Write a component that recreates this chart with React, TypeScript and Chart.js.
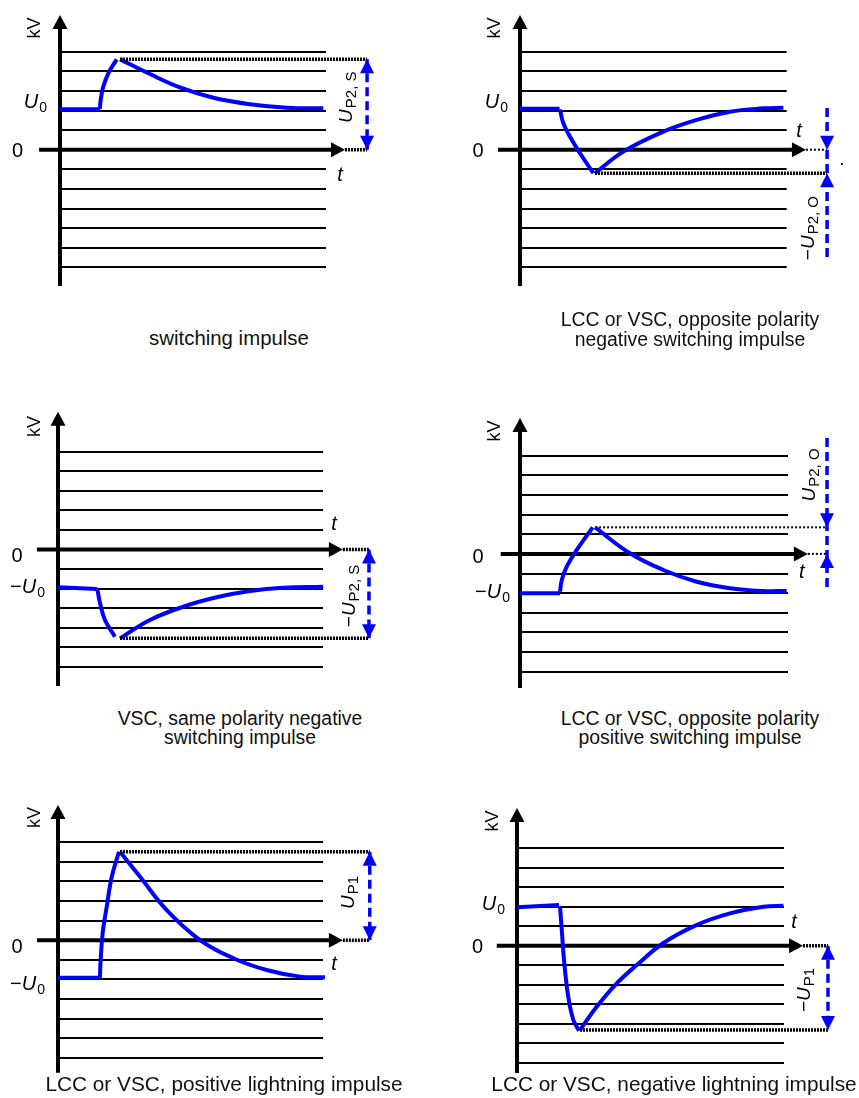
import React, { useEffect, useRef } from 'react';
import { Chart, registerables } from 'chart.js';

Chart.register(...registerables);

type Pt = [number, number];

// x: time in arbitrary units (0 … 13.6 = end of the grid), y: voltage in grid steps
// Panel 1 — switching impulse
const p1Base: Pt[] = [[0, 2.07], [2.04, 2.07]];
const p1Rise: Pt[] = [[2.04, 2.08], [2.08, 2.54], [2.21, 3.21], [2.47, 3.9], [2.9, 4.61]];
const p1Decay: Pt[] = [[3.07, 4.61], [4.6, 3.86], [6.13, 3.18], [7.84, 2.65], [9.71, 2.32], [11.6, 2.14], [13.46, 2.11]];

// Panel 2 — opposite polarity negative switching impulse
const p2Base: Pt[] = [[0, 2.09], [2.02, 2.09]];
const p2Fall: Pt[] = [[2.04, 2.05], [2.21, 1.35], [2.55, 0.66], [3.06, -0.18], [3.74, -1.2]];
const p2Recover: Pt[] = [[3.82, -1.2], [5.27, -0.1], [7.31, 0.92], [9.01, 1.52], [10.71, 1.94], [12.41, 2.11], [13.43, 2.14]];

// Panel 3 — VSC, same polarity negative switching impulse
const p3Base: Pt[] = [[0, -1.93], [2.02, -2.03]];
const p3Fall: Pt[] = [[2.02, -2.03], [2.16, -2.76], [2.41, -3.61], [2.92, -4.47]];
const p3Recover: Pt[] = [[3.18, -4.55], [4.72, -3.61], [6.43, -2.93], [8.14, -2.45], [9.85, -2.13], [11.56, -1.96], [13.61, -1.91]];

// Panel 4 — opposite polarity positive switching impulse
const p4Base: Pt[] = [[0, -2.0], [2.03, -2.0]];
const p4Rise: Pt[] = [[2.03, -1.92], [2.12, -1.33], [2.37, -0.65], [2.88, 0.2], [3.69, 1.35]];
const p4Decay: Pt[] = [[3.81, 1.35], [5.58, 0.03], [7.27, -0.82], [8.97, -1.42], [10.65, -1.75], [12.34, -1.89], [13.53, -1.89]];

// Panel 5 — positive lightning impulse
const p5Base: Pt[] = [[0, -1.92], [2.14, -1.92]];
const p5Rise: Pt[] = [[2.15, -1.92], [2.19, -1.01], [2.29, 0.35], [2.5, 1.71], [2.76, 3.24], [3.13, 4.52]];
const p5Decay: Pt[] = [[3.18, 4.52], [4.21, 3.24], [5.58, 1.54], [7.29, 0.01], [9.0, -0.92], [10.71, -1.52], [12.42, -1.86], [13.7, -1.89]];

// Panel 6 — negative lightning impulse
const p6Base: Pt[] = [[0, 1.97], [2.14, 2.09]];
const p6Fall: Pt[] = [[2.19, 2.04], [2.28, 0.81], [2.41, -0.9], [2.61, -2.61], [2.87, -3.81], [3.16, -4.36]];
const p6Recover: Pt[] = [[3.21, -4.32], [4.06, -3.13], [5.08, -1.93], [6.1, -0.99], [7.44, 0.13], [9.14, 1.06], [10.85, 1.66], [12.55, 2.0], [13.57, 2.05]];

// grid levels (voltage steps) and time range of the grid
const yGridMin = -6;
const yGridMax = 5;
const xGridMax = 13.6;

const captions = [
  { lines: ['switching impulse'], cx: 229, base: 345, size: 20.4 },
  { lines: ['LCC or VSC, opposite polarity', 'negative switching impulse'], cx: 690, base: 326.7, size: 19.4 },
  { lines: ['VSC, same polarity negative', 'switching impulse'], cx: 240, base: 725, size: 19.4 },
  { lines: ['LCC or VSC, opposite polarity', 'positive switching impulse'], cx: 690, base: 725, size: 19.4 },
  { lines: ['LCC or VSC, positive lightning impulse'], cx: 224, base: 1091.7, size: 20.8 },
  { lines: ['LCC or VSC, negative lightning impulse'], cx: 674, base: 1091.7, size: 20.8 },
];

const FONT = '"Liberation Sans", Arial, Helvetica, sans-serif';
const BLUE = '#0000ff';
const INK = '#000000';

type Part = { t: string; i?: boolean; sub?: boolean };
type Label =
  | { k: 'kv' | 'zero' | 't' | 'dot'; x: number; y: number }
  | { k: 'u0' | 'rot'; x: number; y: number; parts: Part[] };

type Head = { y: number; dir: 'up' | 'down' };
type Spec = {
  box: { left: number; top: number; w: number; h: number };
  area: { left: number; right: number; top: number; bottom: number };
  segments: { pts: Pt[]; smooth?: boolean }[];
  yAxis: { from: number; tip: number };
  xAxis: { from: number; tip: number; dotTo: number; thick: boolean };
  ext: Pt;
  extThick: boolean;
  arrow: { x: number; y1: number; y2: number; heads: Head[] };
  labels: Label[];
};

const U0: Part[] = [{ t: 'U', i: true }, { t: '0', sub: true }];
const NU0: Part[] = [{ t: '\u2212' }, { t: 'U', i: true }, { t: '0', sub: true }];

const panels: Spec[] = [
  {
    box: { left: 0, top: 0, w: 430, h: 310 },
    area: { left: 60, right: 326, top: 51.7, bottom: 267.3 },
    segments: [{ pts: p1Base }, { pts: p1Rise, smooth: true }, { pts: p1Decay, smooth: true }],
    yAxis: { from: -6.95, tip: 6.87 },
    xAxis: { from: -1.07, tip: 14.57, dotTo: 15.7, thick: true },
    ext: p1Decay[0],
    extThick: true,
    arrow: { x: 15.7, y1: p1Decay[0][1], y2: 0, heads: [{ y: p1Decay[0][1], dir: 'up' }, { y: 0, dir: 'down' }] },
    labels: [
      { k: 'kv', x: -1.33, y: 6.21 },
      { k: 'zero', x: -2.17, y: 0 },
      { k: 't', x: 14.34, y: -1.24 },
      { k: 'u0', x: -0.66, y: 2.11, parts: U0 },
      { k: 'rot', x: 14.57, y: 2.68, parts: [{ t: 'U', i: true }, { t: 'P2, S', sub: true }] },
    ],
  },
  {
    box: { left: 430, top: 0, w: 429, h: 310 },
    area: { left: 520, right: 786.7, top: 51.7, bottom: 267.3 },
    segments: [{ pts: p2Base }, { pts: p2Fall, smooth: true }, { pts: p2Recover, smooth: true }],
    yAxis: { from: -6.95, tip: 6.87 },
    xAxis: { from: -1.12, tip: 14.58, dotTo: 15.66, thick: false },
    ext: p2Recover[0],
    extThick: true,
    arrow: { x: 15.66, y1: 2.13, y2: -5.53, heads: [{ y: 0, dir: 'down' }, { y: p2Recover[0][1], dir: 'up' }] },
    labels: [
      { k: 'kv', x: -1.33, y: 6.21 },
      { k: 'zero', x: -2.14, y: 0 },
      { k: 't', x: 14.25, y: 1.0 },
      { k: 'u0', x: -0.61, y: 2.13, parts: U0 },
      { k: 'rot', x: 14.64, y: -4.0, parts: [{ t: '\u2212' }, { t: 'U', i: true }, { t: 'P2, O', sub: true }] },
      { k: 'dot', x: 16.42, y: -0.76 },
    ],
  },
  {
    box: { left: 0, top: 390, w: 430, h: 310 },
    area: { left: 58, right: 323, top: 451.7, bottom: 666.7 },
    segments: [{ pts: p3Base }, { pts: p3Fall, smooth: true }, { pts: p3Recover, smooth: true }],
    yAxis: { from: -6.99, tip: 7.04 },
    xAxis: { from: -1.08, tip: 14.62, dotTo: 15.96, thick: true },
    ext: p3Recover[0],
    extThick: true,
    arrow: { x: 15.96, y1: 0, y2: p3Recover[0][1], heads: [{ y: 0, dir: 'up' }, { y: p3Recover[0][1], dir: 'down' }] },
    labels: [
      { k: 'kv', x: -1.26, y: 6.29 },
      { k: 'zero', x: -2.1, y: -0.28 },
      { k: 't', x: 14.19, y: 1.38 },
      { k: 'u0', x: -0.67, y: -2.25, parts: NU0 },
      { k: 'rot', x: 14.88, y: -2.38, parts: [{ t: '\u2212' }, { t: 'U', i: true }, { t: 'P2, S', sub: true }] },
    ],
  },
  {
    box: { left: 430, top: 390, w: 429, h: 310 },
    area: { left: 520, right: 788, top: 455.7, bottom: 671.7 },
    segments: [{ pts: p4Base }, { pts: p4Rise, smooth: true }, { pts: p4Decay, smooth: true }],
    yAxis: { from: -6.83, tip: 6.92 },
    xAxis: { from: -0.98, tip: 14.61, dotTo: 15.58, thick: false },
    ext: p4Decay[0],
    extThick: false,
    arrow: { x: 15.58, y1: 5.9, y2: -1.84, heads: [{ y: p4Decay[0][1], dir: 'down' }, { y: 0, dir: 'up' }] },
    labels: [
      { k: 'kv', x: -1.34, y: 6.26 },
      { k: 'zero', x: -2.13, y: -0.08 },
      { k: 't', x: 14.33, y: -0.87 },
      { k: 'u0', x: -0.51, y: -2.24, parts: NU0 },
      { k: 'rot', x: 14.61, y: 4.02, parts: [{ t: 'U', i: true }, { t: 'P2, O', sub: true }] },
    ],
  },
  {
    box: { left: 0, top: 780, w: 430, h: 300 },
    area: { left: 58, right: 323, top: 842.3, bottom: 1057.7 },
    segments: [{ pts: p5Base }, { pts: p5Rise, smooth: true }, { pts: p5Decay, smooth: true }],
    yAxis: { from: -6.77, tip: 6.9 },
    xAxis: { from: -1.08, tip: 14.62, dotTo: 16.0, thick: true },
    ext: p5Decay[0],
    extThick: true,
    arrow: { x: 16.0, y1: p5Decay[0][1], y2: 0, heads: [{ y: p5Decay[0][1], dir: 'up' }, { y: 0, dir: 'down' }] },
    labels: [
      { k: 'kv', x: -1.26, y: 6.27 },
      { k: 'zero', x: -2.1, y: -0.3 },
      { k: 't', x: 14.19, y: -1.14 },
      { k: 'u0', x: -0.67, y: -2.54, parts: NU0 },
      { k: 'rot', x: 14.83, y: 2.44, parts: [{ t: 'U', i: true }, { t: 'P1', sub: true }] },
    ],
  },
  {
    box: { left: 430, top: 780, w: 429, h: 300 },
    area: { left: 517, right: 784, top: 848.3, bottom: 1062.7 },
    segments: [{ pts: p6Base }, { pts: p6Fall, smooth: true }, { pts: p6Recover, smooth: true }],
    yAxis: { from: -6.53, tip: 7.07 },
    xAxis: { from: -1.03, tip: 14.57, dotTo: 15.84, thick: true },
    ext: p6Recover[0],
    extThick: true,
    arrow: { x: 15.84, y1: 0, y2: p6Recover[0][1], heads: [{ y: 0, dir: 'up' }, { y: p6Recover[0][1], dir: 'down' }] },
    labels: [
      { k: 'kv', x: -1.3, y: 6.4 },
      { k: 'zero', x: -2.01, y: -0.01 },
      { k: 't', x: 14.14, y: 1.27 },
      { k: 'u0', x: -0.61, y: 1.84, parts: U0 },
      { k: 'rot', x: 14.57, y: -2.27, parts: [{ t: '\u2212' }, { t: 'U', i: true }, { t: 'P1', sub: true }] },
    ],
  },
];

function fontFor(p: Part, size: number, subSize: number) {
  return `${p.i ? 'italic ' : ''}${p.sub ? subSize : size}px ${FONT}`;
}

function drawParts(
  ctx: CanvasRenderingContext2D,
  parts: Part[],
  x: number,
  y: number,
  o: { size: number; subSize?: number; subDy?: number; align: 'left' | 'center' | 'right'; rotate?: boolean; middle?: boolean },
) {
  const subSize = o.subSize ?? o.size;
  const subDy = o.subDy ?? 0;
  ctx.save();
  ctx.fillStyle = INK;
  ctx.textBaseline = 'alphabetic';
  ctx.textAlign = 'left';
  const widths = parts.map((p) => {
    ctx.font = fontFor(p, o.size, subSize);
    return ctx.measureText(p.t).width + (p.i ? 1 : 0);
  });
  const W = widths.reduce((a, b) => a + b, 0);
  ctx.translate(x, y);
  if (o.rotate) ctx.rotate(-Math.PI / 2);
  let cx = o.align === 'right' ? -W : o.align === 'center' ? -W / 2 : 0;
  const base = o.middle ? o.size * 0.36 : 0;
  parts.forEach((p, k) => {
    ctx.font = fontFor(p, o.size, subSize);
    ctx.fillText(p.t, cx, base + (p.sub ? subDy : 0));
    cx += widths[k];
  });
  ctx.restore();
}

function tri(ctx: CanvasRenderingContext2D, pts: number[][], color: string) {
  ctx.beginPath();
  ctx.moveTo(pts[0][0], pts[0][1]);
  ctx.lineTo(pts[1][0], pts[1][1]);
  ctx.lineTo(pts[2][0], pts[2][1]);
  ctx.closePath();
  ctx.fillStyle = color;
  ctx.fill();
}

function makeDecor(spec: Spec) {
  return {
    id: 'impulseDecor',
    beforeDatasetsDraw(chart: any) {
      const ctx: CanvasRenderingContext2D = chart.ctx;
      const X = (v: number) => chart.scales.x.getPixelForValue(v);
      const Y = (v: number) => chart.scales.y.getPixelForValue(v);
      ctx.save();
      ctx.strokeStyle = INK;
      ctx.lineWidth = 4;
      ctx.lineCap = 'butt';
      // vertical axis
      const x0 = X(0);
      const yt = Y(spec.yAxis.tip);
      ctx.beginPath();
      ctx.moveTo(x0, Y(spec.yAxis.from));
      ctx.lineTo(x0, yt + 12);
      ctx.stroke();
      tri(ctx, [[x0, yt], [x0 - 7.5, yt + 14], [x0 + 7.5, yt + 14]], INK);
      // horizontal axis
      const y0 = Y(0);
      const xt = X(spec.xAxis.tip);
      ctx.beginPath();
      ctx.moveTo(X(spec.xAxis.from), y0);
      ctx.lineTo(xt - 12, y0);
      ctx.stroke();
      tri(ctx, [[xt, y0], [xt - 14, y0 - 7.5], [xt - 14, y0 + 7.5]], INK);
      ctx.restore();
    },
    afterDatasetsDraw(chart: any) {
      const ctx: CanvasRenderingContext2D = chart.ctx;
      const X = (v: number) => chart.scales.x.getPixelForValue(v);
      const Y = (v: number) => chart.scales.y.getPixelForValue(v);
      const dotted = (x1: number, x2: number, y: number, thick: boolean) => {
        ctx.save();
        ctx.strokeStyle = INK;
        ctx.lineWidth = thick ? 3.5 : 2;
        ctx.setLineDash(thick ? [2, 1] : [2, 2]);
        ctx.beginPath();
        ctx.moveTo(x1, y);
        ctx.lineTo(x2, y);
        ctx.stroke();
        ctx.restore();
      };
      // axis continuation
      dotted(X(spec.xAxis.tip), X(spec.xAxis.dotTo), Y(0), spec.xAxis.thick);
      // extremum reference line
      dotted(X(spec.ext[0]), X(spec.arrow.x), Y(spec.ext[1]), spec.extThick);
      // dashed measuring arrow
      const ax = X(spec.arrow.x);
      ctx.save();
      ctx.strokeStyle = BLUE;
      ctx.lineWidth = 3.5;
      ctx.setLineDash([9, 5]);
      ctx.beginPath();
      ctx.moveTo(ax, Y(spec.arrow.y1));
      ctx.lineTo(ax, Y(spec.arrow.y2));
      ctx.stroke();
      ctx.restore();
      spec.arrow.heads.forEach((h) => {
        const ty = Y(h.y);
        const s = h.dir === 'up' ? 1 : -1;
        tri(ctx, [[ax, ty], [ax - 7, ty + s * 14], [ax + 7, ty + s * 14]], BLUE);
      });
      // labels
      spec.labels.forEach((l) => {
        const px = X(l.x);
        const py = Y(l.y);
        if (l.k === 'kv') drawParts(ctx, [{ t: 'kV' }], px, py, { size: 18, align: 'center', rotate: true, middle: true });
        else if (l.k === 'zero') drawParts(ctx, [{ t: '0' }], px, py, { size: 20, align: 'center', middle: true });
        else if (l.k === 't') drawParts(ctx, [{ t: 't', i: true }], px, py, { size: 20, align: 'center', middle: true });
        else if (l.k === 'dot') drawParts(ctx, [{ t: '.' }], px, py, { size: 19, align: 'center' });
        else if (l.k === 'u0') drawParts(ctx, l.parts, px, py, { size: 20, subSize: 14, subDy: 4, align: 'right' });
        else if (l.k === 'rot') drawParts(ctx, l.parts, px, py, { size: 19, subSize: 15, subDy: 4.5, align: 'center', rotate: true, middle: true });
      });
    },
  };
}

function Panel({ spec }: { spec: Spec }) {
  const ref = useRef<HTMLCanvasElement>(null);
  useEffect(() => {
    const c = ref.current;
    if (!c) return;
    const { box, area } = spec;
    const chart = new Chart(c, {
      type: 'scatter',
      data: {
        datasets: spec.segments.map((seg) => ({
          data: seg.pts.map(([x, y]) => ({ x, y })),
          showLine: true,
          borderColor: BLUE,
          backgroundColor: BLUE,
          borderWidth: 4,
          pointRadius: 0,
          pointHoverRadius: 0,
          tension: seg.smooth ? 0.4 : 0,
          cubicInterpolationMode: 'default',
          borderCapStyle: 'butt',
          borderJoinStyle: 'round',
          fill: false,
          clip: false,
        })) as any,
      },
      options: {
        animation: false,
        responsive: false,
        maintainAspectRatio: false,
        devicePixelRatio: 1,
        events: [],
        elements: { line: { capBezierPoints: false } },
        layout: {
          padding: {
            left: area.left - box.left,
            right: box.left + box.w - area.right,
            top: area.top - box.top,
            bottom: box.top + box.h - area.bottom,
          },
        },
        scales: {
          x: { type: 'linear', min: 0, max: xGridMax, display: false },
          y: {
            type: 'linear',
            min: yGridMin,
            max: yGridMax,
            display: true,
            ticks: { display: false, stepSize: 1 },
            grid: { color: INK, lineWidth: 2, drawTicks: false },
            border: { display: false },
          },
        },
        plugins: { legend: { display: false }, tooltip: { enabled: false } },
      } as any,
      plugins: [makeDecor(spec) as any],
    });
    return () => chart.destroy();
  }, [spec]);
  return (
    <canvas
      ref={ref}
      width={spec.box.w}
      height={spec.box.h}
      style={{ position: 'absolute', left: spec.box.left, top: spec.box.top, width: spec.box.w, height: spec.box.h }}
    />
  );
}

export default function App() {
  return (
    <div style={{ position: 'absolute', left: 0, top: 0, width: 859, height: 1098, background: '#ffffff', overflow: 'hidden' }}>
      {panels.map((p, i) => (
        <Panel key={i} spec={p} />
      ))}
      {captions.map((c, i) => {
        const lh = c.size;
        const top = c.base - ((lh - 1.117 * c.size) / 2 + 0.905 * c.size);
        return (
          <div
            key={'c' + i}
            style={{
              position: 'absolute',
              left: c.cx - 250,
              top,
              width: 500,
              textAlign: 'center',
              fontFamily: FONT,
              fontSize: c.size,
              lineHeight: lh + 'px',
              color: '#111111',
              whiteSpace: 'nowrap',
            }}
          >
            {c.lines.map((ln, k) => (
              <div key={k}>{ln}</div>
            ))}
          </div>
        );
      })}
    </div>
  );
}
